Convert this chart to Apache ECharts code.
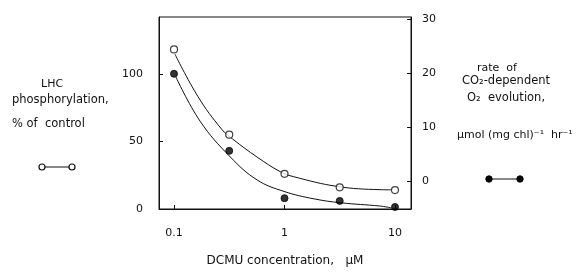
<!DOCTYPE html>
<html>
<head>
<meta charset="utf-8">
<script src="https://cdn.jsdelivr.net/npm/echarts@6/dist/echarts.min.js"></script>
<style>
  html, body { margin: 0; padding: 0; background: #fff; }
  #main { width: 579px; height: 272px; }
</style>
</head>
<body>
<div id="main"></div>
<script>
// DCMU concentration (uM), plotted on a log scale
const conc = [0.1, 0.316, 1, 3.16, 10];
// LHC phosphorylation, % of control (open circles)
const lhcPhos = [118, 55, 26, 16, 14];
// CO2-dependent O2 evolution (filled circles), read against the left scale
const o2Evol = [100, 43, 8, 6, 1.5];

// hand-drawn fitted curves as [conc, value]
const lhcCurve = [[0.102, 114.5], [0.165, 83], [0.27, 59], [0.34, 51.7], [0.565, 38.4], [0.92, 27.5], [1.21, 23.9], [3.0, 16.7], [7.3, 14.3], [9.2, 14.2]];
const o2Curve = [[0.104, 97.6], [0.172, 65], [0.324, 38.4], [0.565, 21.5], [0.99, 13], [1.85, 7.5], [3.23, 4.6], [7.3, 2.2], [9.2, 0.9]];

const xTicks = [0.1, 1, 10];
const leftTicks = [0, 50, 100];
const rightTicks = [0, 10, 20, 30];

const lg = v => Math.log10(v);
const FONT = "DejaVu Sans";
const INK = "#111";

const chart = echarts.init(document.getElementById("main"), null, { renderer: "canvas" });

const option = {
  animation: false,
  textStyle: { fontFamily: FONT, color: INK },
  grid: { left: 159, right: 168, top: 17, bottom: 59, show: true, borderColor: INK, borderWidth: 1 },
  xAxis: {
    type: "value",
    min: -1.136,
    max: 1.145,
    axisLine: { onZero: false, lineStyle: { color: INK } },
    axisTick: { inside: true, length: 4, customValues: xTicks.map(lg), lineStyle: { color: INK } },
    splitLine: { show: false },
    axisLabel: {
      customValues: xTicks.map(lg),
      formatter: v => String(xTicks[Math.round(v) + 1]),
      margin: 19, fontSize: 11, color: INK, fontFamily: FONT
    },
    name: "DCMU concentration,   µM",
    nameLocation: "middle",
    nameGap: 46,
    nameTextStyle: { fontSize: 12, color: INK, fontFamily: FONT }
  },
  yAxis: [{
    type: "value",
    min: 0,
    max: 142,
    axisLine: { show: true, onZero: false, lineStyle: { color: INK } },
    axisTick: { show: true, inside: true, length: 4, customValues: leftTicks, lineStyle: { color: INK } },
    splitLine: { show: false },
    axisLabel: { customValues: leftTicks, margin: 16, fontSize: 11, color: INK, fontFamily: FONT }
  }, {
    type: "value",
    position: "right",
    min: -5.1,
    max: 30.4,
    axisLine: { show: true, onZero: false, lineStyle: { color: INK } },
    axisTick: { show: true, inside: true, length: 4, customValues: rightTicks, lineStyle: { color: INK } },
    splitLine: { show: false },
    axisLabel: { customValues: rightTicks, margin: 11, fontSize: 11, color: INK, fontFamily: FONT }
  }],
  series: [
    {
      type: "line", smooth: 0.4, symbol: "none",
      data: lhcCurve.map(p => [lg(p[0]), p[1]]),
      lineStyle: { color: INK, width: 1 }
    },
    {
      type: "line", smooth: 0.4, symbol: "none",
      data: o2Curve.map(p => [lg(p[0]), p[1]]),
      lineStyle: { color: INK, width: 1 }
    },
    {
      type: "scatter", symbol: "circle", symbolSize: 7, z: 5,
      data: conc.map((c, i) => [lg(c), lhcPhos[i]]),
      itemStyle: { color: "#fff", borderColor: INK, borderWidth: 1.2 }
    },
    {
      type: "scatter", symbol: "circle", symbolSize: 7, z: 5,
      data: conc.map((c, i) => [lg(c), o2Evol[i]]),
      itemStyle: { color: "#000", borderColor: "#000", borderWidth: 1 }
    }
  ],
  graphic: [
    // left axis label
    { type: "text", left: 41, top: 79, style: { text: "LHC", font: "11px " + FONT, fill: INK } },
    { type: "text", left: 12, top: 94, style: { text: "phosphorylation,", font: "11.5px " + FONT, fill: INK } },
    { type: "text", left: 12, top: 118, style: { text: "% of  control", font: "11.5px " + FONT, fill: INK } },
    // open-circle key
    { type: "line", shape: { x1: 42, y1: 167, x2: 72, y2: 167 }, style: { stroke: INK, lineWidth: 1 } },
    { type: "circle", shape: { cx: 42, cy: 167, r: 3 }, style: { fill: "#fff", stroke: INK, lineWidth: 1.2 } },
    { type: "circle", shape: { cx: 72, cy: 167, r: 3 }, style: { fill: "#fff", stroke: INK, lineWidth: 1.2 } },
    // right axis label
    { type: "text", left: 477, top: 63, style: { text: "rate  of", font: "11px " + FONT, fill: INK } },
    { type: "text", left: 462, top: 75, style: { text: "CO₂-dependent", font: "11.5px " + FONT, fill: INK } },
    { type: "text", left: 467, top: 92, style: { text: "O₂  evolution,", font: "11.5px " + FONT, fill: INK } },
    { type: "text", left: 457, top: 130, style: { text: "µmol (mg chl)⁻¹  hr⁻¹", font: "11px " + FONT, fill: INK } },
    // filled-circle key
    { type: "line", shape: { x1: 489, y1: 179, x2: 520, y2: 179 }, style: { stroke: INK, lineWidth: 1 } },
    { type: "circle", shape: { cx: 489, cy: 179, r: 3.2 }, style: { fill: "#000", stroke: "#000", lineWidth: 1 } },
    { type: "circle", shape: { cx: 520, cy: 179, r: 3.2 }, style: { fill: "#000", stroke: "#000", lineWidth: 1 } }
  ]
};

chart.setOption(option);
</script>
</body>
</html>
